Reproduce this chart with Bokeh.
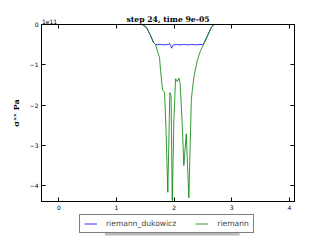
from bokeh.plotting import figure
from bokeh.models import (Range1d, Legend, LegendItem, LinearAxis, FixedTicker,
                          CustomJSTickFormatter, BoxAnnotation)
from bokeh.layouts import column
from bokeh.embed import file_html
from bokeh.resources import INLINE

# ---- data (sigma_xx in units of 1e11 Pa) ----
title_text = "step 24, time 9e-05"
scale_text = "1e11"
x_ticks = [0, 1, 2, 3, 4]
y_ticks = [0, -1, -2, -3, -4]
y_tick_labels = ["0", "\u22121", "\u22122", "\u22123", "\u22124"]
series_names = ["riemann_dukowicz", "riemann"]

x_dukowicz = [-0.30, 1.448, 1.523, 1.592, 1.644, 1.679, 1.72, 1.76, 1.80, 1.84, 1.88,
              1.905, 1.922, 1.940, 1.957, 1.979, 2.00, 2.04, 2.08, 2.12, 2.16, 2.20,
              2.25, 2.30, 2.35, 2.40, 2.45, 2.49, 2.525, 2.58, 2.645, 2.69, 4.10]
y_dukowicz = [0.0, 0.0, -0.074, -0.273, -0.447, -0.496, -0.505, -0.495, -0.50, -0.505, -0.495,
              -0.50, -0.464, -0.52, -0.588, -0.52, -0.505, -0.495, -0.50, -0.505, -0.495, -0.50,
              -0.505, -0.495, -0.50, -0.505, -0.495, -0.50, -0.45, -0.28, -0.08, 0.0, 0.0]

x_riemann = [-0.30, 1.448, 1.523, 1.592, 1.644, 1.679, 1.708, 1.748, 1.766, 1.792, 1.806,
             1.835, 1.861, 1.892, 1.927, 1.948, 1.969, 1.997, 2.026, 2.056, 2.083, 2.104,
             2.139, 2.170, 2.212, 2.257, 2.299, 2.316, 2.344, 2.403, 2.460, 2.50, 2.525,
             2.58, 2.645, 2.69, 4.10]
y_riemann = [0.0, 0.0, -0.074, -0.273, -0.447, -0.496, -0.645, -0.819, -1.141, -1.514, -1.638,
             -1.680, -2.630, -4.161, -1.687, -1.762, -4.367, -2.382, -1.347, -1.414, -1.328, -1.439,
             -2.382, -3.499, -2.712, -4.300, -1.886, -1.638, -1.308, -0.893, -0.645, -0.53, -0.45,
             -0.28, -0.08, 0.0, 0.0]

BLUE, GREEN = "#0000ff", "#008000"
X0, X1 = -0.30, 4.09
p = figure(width=327, height=212, output_backend="svg", toolbar_location=None,
           x_range=Range1d(X0, X1), y_range=Range1d(-4.39, 0.0),
           min_border_left=41, min_border_right=33, min_border_top=24, min_border_bottom=11)
p.background_fill_color = "white"
p.border_fill_color = "white"
p.outline_line_color = "black"
p.grid.visible = False

p.line(x_dukowicz, y_dukowicz, line_color=BLUE, line_width=0.8)
p.line(x_riemann, y_riemann, line_color=GREEN, line_width=0.8)

xa = p.xaxis[0]
xa.ticker = FixedTicker(ticks=x_ticks)
ya = p.yaxis[0]
ya.ticker = FixedTicker(ticks=y_ticks)
ya.major_label_overrides = {t: s for t, s in zip(y_ticks, y_tick_labels)}
for ax in (xa, ya):
    ax.major_tick_in = 4
    ax.major_tick_out = 0
    ax.minor_tick_line_color = None
    ax.axis_line_color = "black"
    ax.major_tick_line_color = "black"
    ax.major_label_text_font = "DejaVu Sans"
    ax.major_label_text_font_size = "6px"
    ax.major_label_text_color = "black"
    ax.major_label_standoff = 3

ya.axis_label = "\u03c3\u02e3\u02e3 Pa"
ya.axis_label_text_font = "DejaVu Serif"
ya.axis_label_text_font_style = "bold"
ya.axis_label_text_font_size = "8px"
ya.axis_label_text_color = "black"
ya.axis_label_standoff = 6

# top axis: tick marks as minor ticks, the single major label carries the scale text
scale_pos = X0 + 8.0 / 57.6
top = LinearAxis(ticker=FixedTicker(ticks=[scale_pos], minor_ticks=x_ticks),
                 formatter=CustomJSTickFormatter(args=dict(t=scale_text), code="return t;"),
                 major_tick_line_color=None, major_tick_in=0, major_tick_out=0,
                 minor_tick_in=4, minor_tick_out=0, minor_tick_line_color="black",
                 major_label_text_font="DejaVu Sans", major_label_text_font_size="6px",
                 major_label_text_color="black", major_label_standoff=1,
                 axis_line_color="black",
                 axis_label=title_text, axis_label_text_font="DejaVu Serif",
                 axis_label_text_font_style="bold", axis_label_text_font_size="7.7px",
                 axis_label_text_color="black", axis_label_standoff=-8)
right = LinearAxis(ticker=FixedTicker(ticks=y_ticks), major_tick_in=4, major_tick_out=0,
                   minor_tick_line_color=None, major_label_text_color=None,
                   major_label_text_font_size="1px", axis_line_color="black")
p.add_layout(top, "above")
p.add_layout(right, "right")

# legend strip below the chart; its ranges keep the series out of view
q = figure(width=327, height=34, output_backend="svg", toolbar_location=None,
           x_range=Range1d(0, 327), y_range=Range1d(44, 10), min_border=0)
q.axis.visible = False
q.grid.visible = False
q.outline_line_color = None
q.background_fill_color = "white"
q.border_fill_color = "white"
l1 = q.line(x_dukowicz, y_dukowicz, line_color=BLUE, line_width=0.8)
l2 = q.line(x_riemann, y_riemann, line_color=GREEN, line_width=0.8)

# drop shadow of the legend box
q.add_layout(BoxAnnotation(left=82, right=256, top=16, bottom=33, fill_color="#808080",
                           fill_alpha=0.55, line_color=None))

legend = Legend(items=[LegendItem(label=series_names[0], renderers=[l1]),
                       LegendItem(label=series_names[1], renderers=[l2])],
                orientation="horizontal", location=(38, 13),
                label_text_font="DejaVu Sans", label_text_font_size="7.6px",
                glyph_width=13, glyph_height=7, label_height=7,
                label_standoff=9, spacing=19, padding=4, margin=0,
                border_line_color="black", border_line_width=1,
                background_fill_color="white", background_fill_alpha=1.0)
q.add_layout(legend, "center")

open("out.html", "w").write(file_html(column(p, q, spacing=0), INLINE))
